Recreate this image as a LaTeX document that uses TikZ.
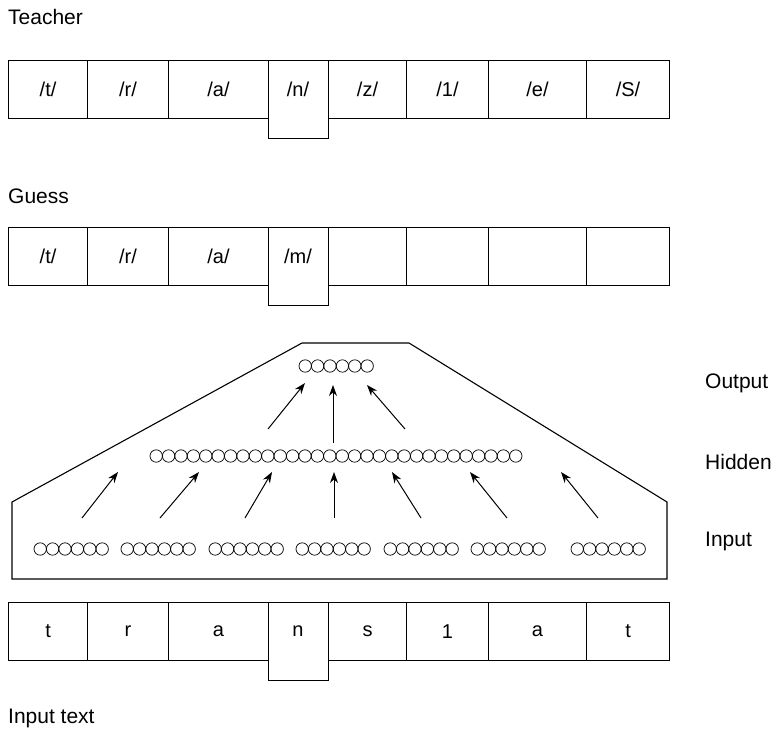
\documentclass[tikz,border=0pt]{standalone}
\usepackage{fontspec}
\setmainfont{Liberation Sans}
\usetikzlibrary{arrows.meta}
\begin{document}
\begin{tikzpicture}[x=1pt,y=-1pt,
  cell/.style={draw, line width=1.1pt, inner sep=0pt, anchor=north west, minimum height=58, font=\fontsize{20}{24}\selectfont},
  tallcell/.style={cell, minimum height=78},
  celltxt/.style={inner sep=0pt, font=\fontsize{20}{24}\selectfont},
  lab/.style={inner sep=0pt, anchor=base west, font=\fontsize{21}{25}\selectfont},
  unit/.style={circle, draw, line width=0.7pt, inner sep=0pt, minimum size=12.4},
  conn/.style={line width=1pt, -{Stealth[length=11pt,width=8pt]}},
  frame/.style={line width=1.1pt, line join=miter}]
\useasboundingbox (0,0) rectangle (771,741);

% labels
\node[lab] (lteacher) at (8,25) {Teacher};
\node[lab] (lguess) at (8,203) {Guess};
\node[lab] (loutput) at (705,388) {Output};
\node[lab] (lhidden) at (705,469) {Hidden};
\node[lab] (linput) at (705,546) {Input};
\node[lab] (linputtext) at (8,723) {Input text};

% Teacher row
\node[tallcell, minimum width=60] (T4) at (268,60) {};
\node[celltxt] (T4t) at (298,89) {/n/};
\node[cell, minimum width=79] (T1) at (8,60) {/t/};
\node[cell, minimum width=81] (T2) at (87,60) {/r/};
\node[cell, minimum width=100] (T3) at (168,60) {/a/};
\node[cell, minimum width=78] (T5) at (328,60) {/z/};
\node[cell, minimum width=82] (T6) at (406,60) {/1/};
\node[cell, minimum width=98] (T7) at (488,60) {/e/};
\node[cell, minimum width=83] (T8) at (586,60) {/S/};

% Guess row
\node[tallcell, minimum width=60] (G4) at (268,227) {};
\node[celltxt] (G4t) at (298,256) {/m/};
\node[cell, minimum width=79] (G1) at (8,227) {/t/};
\node[cell, minimum width=81] (G2) at (87,227) {/r/};
\node[cell, minimum width=100] (G3) at (168,227) {/a/};
\node[cell, minimum width=78] (G5) at (328,227) {};
\node[cell, minimum width=82] (G6) at (406,227) {};
\node[cell, minimum width=98] (G7) at (488,227) {};
\node[cell, minimum width=83] (G8) at (586,227) {};

% Input text row
\node[tallcell, minimum width=60] (I4) at (268,602) {};
\node[celltxt] (I4t) at (298,631) {n};
\node[cell, minimum width=79] (I1) at (8,602) {t};
\node[cell, minimum width=81] (I2) at (87,602) {r};
\node[cell, minimum width=100] (I3) at (168,602) {a};
\node[cell, minimum width=78] (I5) at (328,602) {s};
\node[cell, minimum width=82] (I6) at (406,602) {1};
\node[cell, minimum width=98] (I7) at (488,602) {a};
\node[cell, minimum width=83] (I8) at (586,602) {t};

% network frame
\draw[frame] (12,502) -- (302,343) -- (409,343) -- (667,502) -- (667,579) -- (12,579) -- cycle;

% units
\foreach \k in {0,...,5} \node[unit] (o\k) at (305.2+12.4*\k,366) {};
\foreach \k in {0,...,29} \node[unit] (h\k) at (156.2+12.4*\k,456) {};
\foreach \g/\gx in {1/34,2/121,3/209,4/296,5/384,6/471,7/571}
  \foreach \k in {0,...,5} \node[unit] (i\g-\k) at (\gx+6.2+12.4*\k,549) {};

% arrows input -> hidden
\coordinate (a1s) at (82,518);  \coordinate (a1e) at (118,472);
\coordinate (a2s) at (160,518); \coordinate (a2e) at (199,472);
\coordinate (a3s) at (245,518); \coordinate (a3e) at (272,472);
\coordinate (a4s) at (334,518); \coordinate (a4e) at (334,472);
\coordinate (a5s) at (421,518); \coordinate (a5e) at (392,472);
\coordinate (a6s) at (507,518); \coordinate (a6e) at (470,472);
\coordinate (a7s) at (598,518); \coordinate (a7e) at (561,472);
\foreach \n in {1,...,7} \draw[conn] (a\n s) -- (a\n e);

% arrows hidden -> output
\coordinate (b1s) at (268,429); \coordinate (b1e) at (305,383);
\coordinate (b2s) at (333,443); \coordinate (b2e) at (333,385);
\coordinate (b3s) at (405,429); \coordinate (b3e) at (367,385);
\foreach \n in {1,2,3} \draw[conn] (b\n s) -- (b\n e);
\end{tikzpicture}
\end{document}
